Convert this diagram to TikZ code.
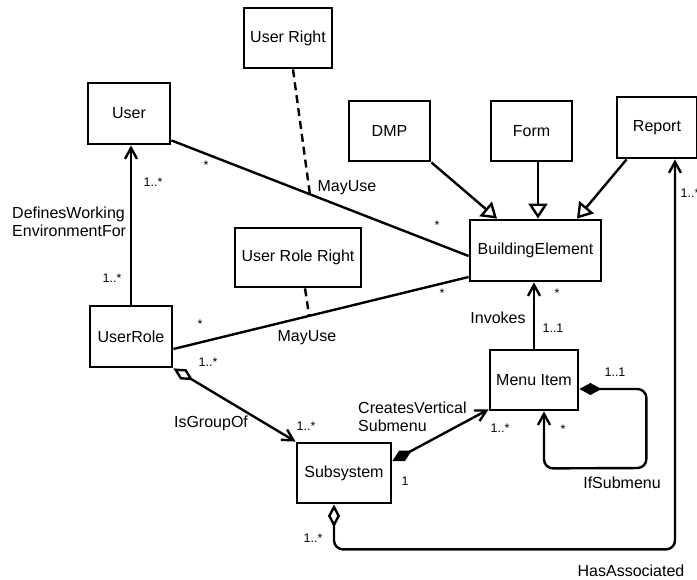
\documentclass[tikz,border=0pt]{standalone}
\usepackage{fontspec}
\setmainfont{Liberation Sans}
\usetikzlibrary{arrows.meta,calc}
\begin{document}
\begin{tikzpicture}[x=1pt,y=-1pt,
  box/.style={draw, line width=2.8pt, inner sep=0pt, font=\fontsize{16}{19}\selectfont},
  lbl/.style={inner sep=0pt, font=\fontsize{16}{18}\selectfont},
  mult/.style={inner sep=0pt, font=\fontsize{12.5}{14}\selectfont},
  conn/.style={line width=2.4pt},
  dashconn/.style={line width=2.4pt, dash pattern=on 8pt off 5pt},
  nav/.style={-{Straight Barb[length=11pt,width=12pt]}},
  gen/.style={-{Triangle[open,length=15pt,width=19pt]}},
  odianav/.style={{Diamond[open,length=23pt,width=12pt]}-{Straight Barb[length=11pt,width=12pt]}},
  fdianav/.style={{Diamond[length=22pt,width=12pt]}-{Straight Barb[length=11pt,width=12pt]}}
]
\useasboundingbox (0,0) rectangle (697,580);

% classes
\node[box, minimum width=88pt, minimum height=60pt] (ur)     at (288,38)    {User Right};
\node[box, minimum width=82pt, minimum height=61pt] (user)   at (129,113.5) {User};
\node[box, minimum width=126pt, minimum height=59pt] (urr)   at (298,257.5) {User Role Right};
\node[box, minimum width=81pt, minimum height=60pt] (dmp)    at (389.5,131) {DMP};
\node[box, minimum width=81pt, minimum height=60pt] (form)   at (531.5,131) {Form};
\node[box, minimum width=80pt, minimum height=61pt] (report) at (657,127.5) {Report};
\node[box, minimum width=131pt, minimum height=61pt] (be)    at (535.5,250.5) {BuildingElement};
\node[box, minimum width=82pt, minimum height=61pt] (urole)  at (131,336.5) {UserRole};
\node[box, minimum width=88pt, minimum height=60pt] (mi)     at (534,380)   {Menu Item};
\node[box, minimum width=94pt, minimum height=60pt] (sub)    at (344,473)   {Subsystem};

% end points
\coordinate (a1) at ($(user.south east)+(0,-5)$);
\coordinate (a2) at ($(be.west)+(0,5.5)$);
\coordinate (a3) at ($(urole.east)+(0,12.5)$);
\coordinate (a4) at ($(be.west)+(0,26.5)$);
\coordinate (m1) at ($(a1)!0.466!(a2)$);
\coordinate (m2) at ($(a3)!0.46!(a4)$);

% associations
\draw[conn] (a1) -- (a2);
\draw[dashconn] ($(ur.south)+(5,0)$) -- (m1);
\draw[conn] (a3) -- (a4);
\draw[dashconn] ($(urr.south)+(7,0)$) -- (m2);
\draw[conn,nav] (urole.north) -- (urole.north |- user.south);
\draw[conn,odianav] (urole.south east) -- (sub.north west);
\draw[conn,nav] (mi.north) -- (mi.north |- be.south);
\draw[conn,fdianav] ($(sub.east)+(0,-12)$) -- ($(mi.south west)+(0,-2)$);
\draw[conn,fdianav,rounded corners=9pt] ($(mi.east)+(0,9)$) -- ++(67,0) -- ++(0,79) -- ($(mi.south)+(10,57)$) -- ($(mi.south)+(10,0)$);
\draw[conn,odianav,rounded corners=9pt] ($(sub.south)+(-10,0)$) -- ++(0,45) -- ($(report.south)+(18,390)$) -- ($(report.south)+(18,0)$);

% generalizations
\draw[conn,gen] (dmp.south east) -- ($(be.north)+(-38.5,0)$);
\draw[conn,gen] ($(form.south)+(6.5,0)$) -- ($(be.north)+(2.5,0)$);
\draw[conn,gen] ($(report.south west)+(11,0)$) -- ($(be.north)+(41.5,0)$);

% labels
\node[mult] (t1) at (153,182) {1..*};
\node[lbl, anchor=west, align=left] (t2) at (12,221.5) {DefinesWorking\\EnvironmentFor};
\node[mult] (t3) at (112,278) {1..*};
\node[mult] (t4) at (206,165) {*};
\node[mult] (t5) at (437,225) {*};
\node[lbl] (t6) at (347,188) {MayUse};
\node[mult] (t7) at (200,324) {*};
\node[mult] (t8) at (442,293) {*};
\node[lbl] (t9) at (307,338) {MayUse};
\node[mult] (t10) at (208,362) {1..*};
\node[lbl] (t11) at (211,423) {IsGroupOf};
\node[mult] (t12) at (306,426) {1..*};
\node[lbl] (t13) at (498,318) {Invokes};
\node[mult] (t14) at (553,328) {1..1};
\node[mult] (t15) at (557,293) {*};
\node[lbl, anchor=west, align=left] (t16) at (358,417) {CreatesVertical\\Submenu};
\node[mult] (t17) at (500,428) {1..*};
\node[mult] (t18) at (405,481) {1};
\node[mult] (t19) at (615,372) {1..1};
\node[mult] (t20) at (563,429) {*};
\node[lbl] (t21) at (622,483) {IfSubmenu};
\node[mult] (t22) at (690,193) {1..*};
\node[lbl] (t23) at (631,571) {HasAssociated};
\node[mult] (t24) at (313,538) {1..*};
\end{tikzpicture}
\end{document}
